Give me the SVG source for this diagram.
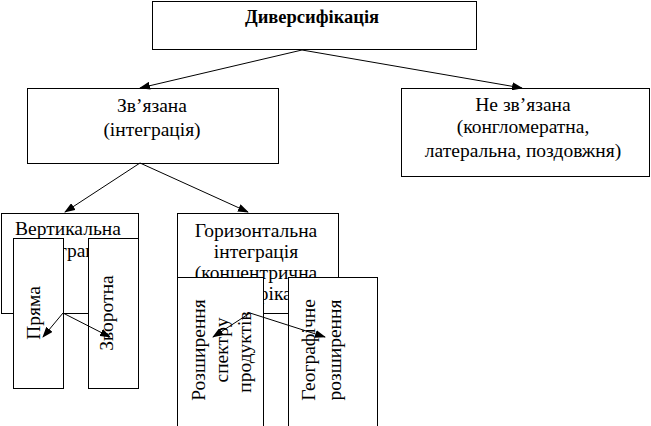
<svg xmlns="http://www.w3.org/2000/svg" width="651" height="426" viewBox="0 0 651 426">
<style>
.box{fill:#fff;stroke:#000;stroke-width:1}
.t{font-family:"Liberation Serif","Times New Roman",serif;font-size:19.5px;fill:#000;text-anchor:middle}
.b{font-weight:bold;font-size:18.5px}
.c{stroke:#000;stroke-width:1;fill:none;marker-end:url(#ah)}
</style>
<defs>
<marker id="ah" markerUnits="userSpaceOnUse" markerWidth="11" markerHeight="8" refX="10" refY="4" orient="auto">
<path d="M0,0 L11,4 L0,8 z" fill="#000"/>
</marker>
</defs>
<rect width="651" height="426" fill="#fff"/>
<g id="n-diversification">
<rect class="box" x="152.5" y="1.5" width="324" height="48"/>
<text class="t b" x="312" y="23">Диверсифікація</text>
</g>
<g id="n-related">
<rect class="box" x="27.5" y="88.5" width="251" height="75"/>
<text class="t" x="152" y="112">Зв’язана</text>
<text class="t" x="152" y="136">(інтеграція)</text>
</g>
<g id="n-unrelated">
<rect class="box" x="401.5" y="88.5" width="248" height="88"/>
<text class="t" x="523" y="111">Не зв’язана</text>
<text class="t" x="523" y="133">(конгломератна,</text>
<text class="t" x="523" y="157">латеральна, поздовжня)</text>
</g>
<g id="n-vertical">
<rect class="box" x="1.5" y="213.5" width="137" height="100"/>
<text class="t" x="68" y="235">Вертикальна</text>
<text class="t" x="68" y="257">інтеграція</text>
</g>
<g id="n-horizontal">
<rect class="box" x="177.5" y="213.5" width="161" height="100"/>
<text class="t" x="256" y="237">Горизонтальна</text>
<text class="t" x="256" y="258">інтеграція</text>
<text class="t" x="256" y="279">(концентрична</text>
<text class="t" x="256" y="300">диверсифікація)</text>
</g>
<g id="n-direct">
<rect class="box" x="13.5" y="238.5" width="50" height="150"/>
<text class="t" transform="translate(40,313) rotate(-90)">Пряма</text>
</g>
<g id="n-reverse">
<rect class="box" x="88.5" y="238.5" width="50" height="150"/>
<text class="t" transform="translate(113,313) rotate(-90)">Зворотна</text>
</g>
<g id="n-product">
<rect class="box" x="177.5" y="277.5" width="86" height="160"/>
<text class="t" transform="translate(205,350) rotate(-90)">Розширення</text>
<text class="t" transform="translate(228,350) rotate(-90)">спектру</text>
<text class="t" transform="translate(251,352) rotate(-90)">продуктів</text>
</g>
<g id="n-geo">
<rect class="box" x="288.5" y="277.5" width="89" height="160"/>
<text class="t" transform="translate(315,350) rotate(-90)">Географічне</text>
<text class="t" transform="translate(341,350) rotate(-90)">розширення</text>
</g>
<g id="connectors">
<line class="c" x1="302" y1="50" x2="140" y2="88"/>
<line class="c" x1="302" y1="50" x2="522" y2="88"/>
<line class="c" x1="140" y1="163" x2="65" y2="212"/>
<line class="c" x1="140" y1="163" x2="248" y2="212"/>
<line class="c" x1="63" y1="313" x2="43" y2="337"/>
<line class="c" x1="63" y1="313" x2="110" y2="337"/>
<line class="c" x1="250" y1="313" x2="213" y2="337"/>
<line class="c" x1="250" y1="313" x2="325" y2="337"/>
</g>
</svg>
